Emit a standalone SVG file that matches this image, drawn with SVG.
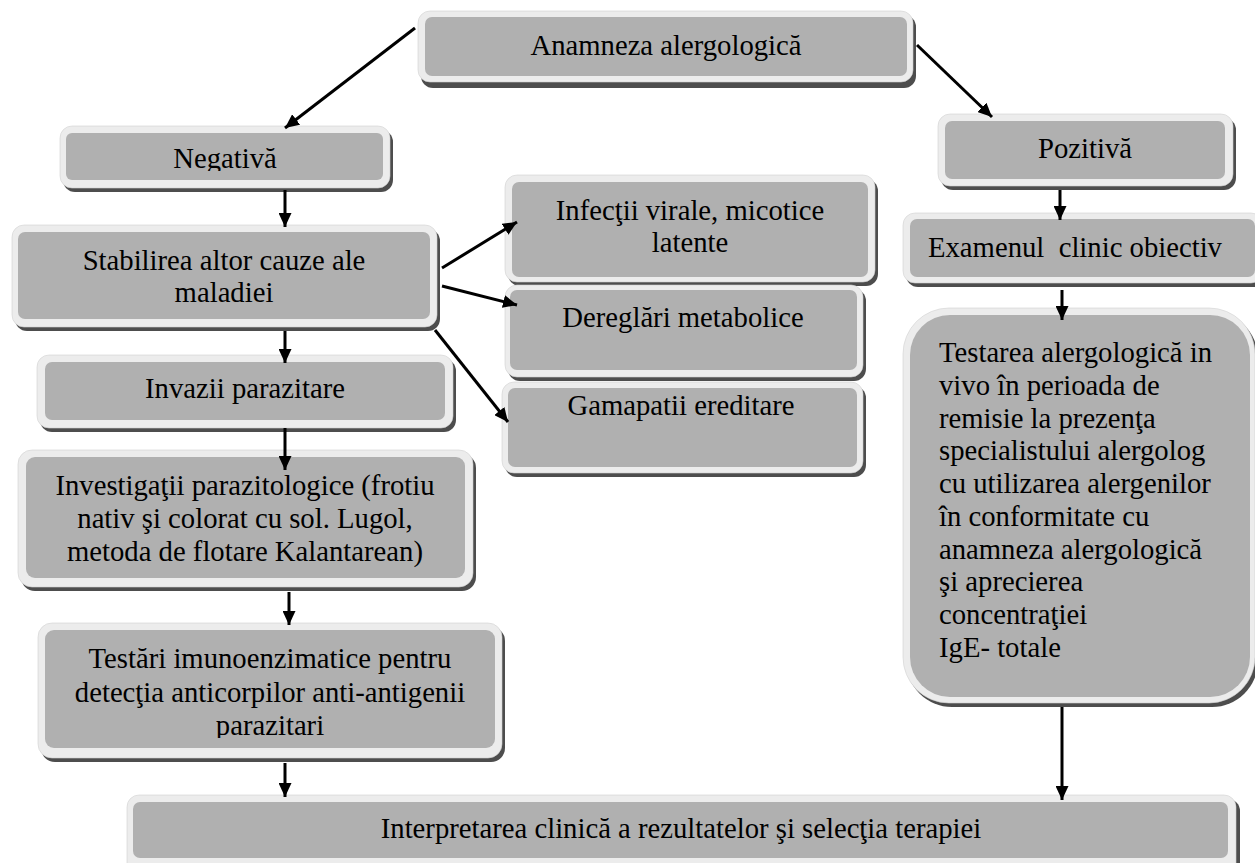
<svg xmlns="http://www.w3.org/2000/svg" width="1255" height="863" viewBox="0 0 1255 863">
  <style>
    .shadow { fill: #4d4d4d; }
    .rim { fill: #ececec; stroke: #d2d2d2; stroke-width: 0.6; }
    .body { fill: #b0b0b0; }
    .label { font-family: "Liberation Serif", "Times New Roman", serif; font-size: 28.7px; fill: #000; }
    .mid { text-anchor: middle; }
    .conn { stroke: #000; stroke-width: 3; fill: none; marker-end: url(#tip); }
  </style>
  <defs>
    <marker id="tip" markerUnits="userSpaceOnUse" markerWidth="15" markerHeight="13" refX="14" refY="6.5" orient="auto">
      <path d="M0,0 L14,6.5 L0,13 z" fill="#000"/>
    </marker>
    <clipPath id="clipNeg"><rect x="60" y="120" width="340" height="51"/></clipPath>
    <clipPath id="clipTest"><rect x="38" y="620" width="470" height="118"/></clipPath>
  </defs>

  <!-- top node -->
  <g id="anamneza">
    <rect class="shadow" x="421" y="15" width="495" height="73" rx="12"/>
    <rect class="rim" x="418" y="11" width="495" height="71" rx="12"/>
    <rect class="body" x="425" y="17" width="482" height="59" rx="7"/>
    <text class="label mid" x="666" y="55">Anamneza alergologică</text>
  </g>

  <!-- negative branch -->
  <g id="negativa">
    <rect class="shadow" x="63" y="130" width="330" height="62" rx="12"/>
    <rect class="rim" x="60" y="126" width="330" height="62" rx="12"/>
    <rect class="body" x="66" y="133" width="317" height="47" rx="6"/>
    <text class="label mid" x="225" y="168" clip-path="url(#clipNeg)">Negativă</text>
  </g>

  <g id="stabilirea">
    <rect class="shadow" x="15" y="229" width="425" height="102" rx="12"/>
    <rect class="rim" x="12" y="225" width="425" height="102" rx="12"/>
    <rect class="body" x="18" y="232" width="412" height="87" rx="7"/>
    <text class="label mid" x="224" y="270">Stabilirea altor cauze ale</text>
    <text class="label mid" x="224" y="302">maladiei</text>
  </g>

  <g id="invazii">
    <rect class="shadow" x="40" y="359" width="416" height="73" rx="12"/>
    <rect class="rim" x="37" y="355" width="416" height="73" rx="12"/>
    <rect class="body" x="45" y="362" width="400" height="58" rx="7"/>
    <text class="label mid" x="245" y="398">Invazii parazitare</text>
  </g>

  <g id="investigatii">
    <rect class="shadow" x="21" y="454" width="455" height="137" rx="14"/>
    <rect class="rim" x="18" y="450" width="455" height="137" rx="14"/>
    <rect class="body" x="26" y="457" width="439" height="121" rx="9"/>
    <text class="label mid" x="245" y="495">Investigaţii parazitologice (frotiu</text>
    <text class="label mid" x="245" y="528">nativ şi colorat cu sol. Lugol,</text>
    <text class="label mid" x="245" y="561">metoda de flotare Kalantarean)</text>
  </g>

  <g id="testari">
    <rect class="shadow" x="41" y="627" width="464" height="135" rx="14"/>
    <rect class="rim" x="38" y="623" width="464" height="135" rx="14"/>
    <rect class="body" x="45" y="630" width="450" height="118" rx="9"/>
    <g clip-path="url(#clipTest)">
      <text class="label mid" x="270" y="668">Testări imunoenzimatice pentru</text>
      <text class="label mid" x="270" y="702">detecţia anticorpilor anti-antigenii</text>
      <text class="label mid" x="270" y="735">parazitari</text>
    </g>
  </g>

  <!-- other causes -->
  <g id="infectii">
    <rect class="shadow" x="508" y="179" width="370" height="107" rx="12"/>
    <rect class="rim" x="505" y="175" width="370" height="107" rx="12"/>
    <rect class="body" x="512" y="182" width="356" height="95" rx="7"/>
    <text class="label mid" x="690" y="220">Infecţii virale, micotice</text>
    <text class="label mid" x="690" y="252">latente</text>
  </g>

  <g id="dereglari">
    <rect class="shadow" x="508" y="289" width="358" height="92" rx="12"/>
    <rect class="rim" x="505" y="285" width="358" height="92" rx="12"/>
    <rect class="body" x="510" y="290" width="347" height="80" rx="7"/>
    <text class="label mid" x="683" y="327">Dereglări metabolice</text>
  </g>

  <g id="gamapatii">
    <rect class="shadow" x="505" y="386" width="361" height="91" rx="12"/>
    <rect class="rim" x="502" y="382" width="361" height="91" rx="12"/>
    <rect class="body" x="508" y="388" width="349" height="79" rx="7"/>
    <text class="label mid" x="681" y="415">Gamapatii ereditare</text>
  </g>

  <!-- positive branch -->
  <g id="pozitiva">
    <rect class="shadow" x="941" y="118" width="295" height="72" rx="12"/>
    <rect class="rim" x="938" y="114" width="295" height="72" rx="12"/>
    <rect class="body" x="945" y="121" width="280" height="58" rx="7"/>
    <text class="label mid" x="1085" y="158">Pozitivă</text>
  </g>

  <g id="examenul">
    <rect class="shadow" x="906" y="217" width="360" height="70" rx="12"/>
    <rect class="rim" x="903" y="213" width="360" height="70" rx="12"/>
    <rect class="body" x="910" y="219" width="345" height="58" rx="7"/>
    <text class="label" x="928" y="257" xml:space="preserve">Examenul  clinic obiectiv</text>
  </g>

  <g id="testarea">
    <rect class="shadow" x="906" y="312" width="352" height="395" rx="46"/>
    <rect class="rim" x="903" y="308" width="352" height="395" rx="46"/>
    <rect class="body" x="910" y="315" width="340" height="382" rx="40"/>
    <text class="label" x="939" y="362">Testarea alergologică in</text>
    <text class="label" x="939" y="395">vivo în perioada de</text>
    <text class="label" x="939" y="428">remisie la prezenţa</text>
    <text class="label" x="939" y="460">specialistului alergolog</text>
    <text class="label" x="939" y="493">cu utilizarea alergenilor</text>
    <text class="label" x="939" y="526">în conformitate cu</text>
    <text class="label" x="939" y="559">anamneza alergologică</text>
    <text class="label" x="939" y="591">şi aprecierea</text>
    <text class="label" x="939" y="624">concentraţiei</text>
    <text class="label" x="939" y="657">IgE- totale</text>
  </g>

  <!-- final node -->
  <g id="interpretarea">
    <rect class="shadow" x="130" y="799" width="1110" height="80" rx="12"/>
    <rect class="rim" x="127" y="795" width="1109" height="80" rx="12"/>
    <rect class="body" x="133" y="802" width="1095" height="56" rx="7"/>
    <text class="label mid" x="681" y="838">Interpretarea clinică a rezultatelor şi selecţia terapiei</text>
  </g>

  <!-- connectors -->
  <g id="connectors">
    <line class="conn" x1="415" y1="28" x2="285" y2="128"/>
    <line class="conn" x1="917" y1="45" x2="992" y2="117"/>
    <line class="conn" x1="285" y1="190" x2="285" y2="227"/>
    <line class="conn" x1="442" y1="268" x2="517" y2="222"/>
    <line class="conn" x1="442" y1="286" x2="517" y2="305"/>
    <line class="conn" x1="435" y1="330" x2="508" y2="422"/>
    <line class="conn" x1="285" y1="331" x2="285" y2="363"/>
    <line class="conn" x1="285" y1="428" x2="285" y2="470"/>
    <line class="conn" x1="289" y1="592" x2="289" y2="625"/>
    <line class="conn" x1="285" y1="763" x2="285" y2="797"/>
    <line class="conn" x1="1060" y1="190" x2="1060" y2="220"/>
    <line class="conn" x1="1062" y1="290" x2="1062" y2="320"/>
    <line class="conn" x1="1062" y1="707" x2="1062" y2="800"/>
  </g>
</svg>
